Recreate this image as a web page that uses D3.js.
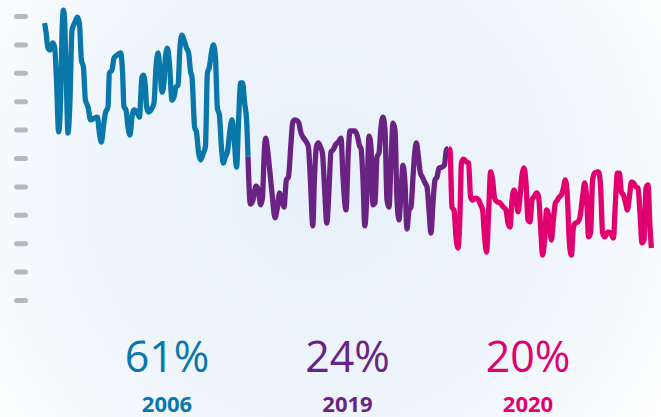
<!DOCTYPE html>
<html><head><meta charset="utf-8">
<script src="https://cdn.jsdelivr.net/npm/d3@7"></script>
<style>html,body{margin:0;padding:0;background:#fff;}svg{display:block;}</style>
</head><body>
<script>
// Period index (weeks) and values per series
const years = ["2006", "2019", "2020"];
const shares = ["61%", "24%", "20%"];
const colors = ["#0a77ab", "#6a2383", "#e0006f"];
const yTicks = [0,10,20,30,40,50,60,70,80,90,100];

const blueT = [0.3,1,2,3,4.3,5.3,6.3,7.3,8.3,9,9.7,10.3,11,12,13,14,15.3,16.7,17.7,18.7,19.7,20.7,22,23.3,25.3,26.7,27.7,28.7,29.7,30.7,32,32.7,34,35,36.7,38.3,39.3,40,41,42,43,44,45,46.7,47.7,49,49.7,50.7,51.3,52.3,54,55,56,57,58,59,60,60.7,61.7,62.7,64,65,66,67,68,69,70,71.3,72.3,73.3,74,75.3,76.3,77.3,78.3,79.7,80.7,81.7,82.7,83.7,84.7,85.7,86.7,87.7,88.7,89.7,90.7,91.7,93,94,95,96.3,97.3,98.3,99.3,100.3,101.3,102];
const blueV = [97.5,94.4,88.7,88.0,90.5,89.1,76.4,59.2,70.4,94.0,102.1,98.6,82.0,58.8,70.4,95.1,97.5,99.6,97.5,84.5,82.0,70.4,68.0,63.4,64.1,64.4,58.8,55.6,60.9,65.8,68.0,79.9,81.0,85.2,86.3,87.0,79.9,68.0,66.9,60.9,58.1,64.4,66.9,65.8,64.4,78.5,79.2,75.0,68.0,66.2,67.6,69.4,82.0,87.0,81.0,73.2,76.4,85.6,88.7,83.5,70.4,71.5,75.0,75.7,89.1,93.3,91.5,88.7,87.0,80.3,78.5,60.9,58.8,51.8,49.3,51.8,53.9,79.9,82.0,87.0,89.8,85.6,67.6,65.1,53.9,48.2,50.4,52.1,59.9,63.4,57.4,46.8,63.4,76.4,76.4,69.4,63.4,50.4];

const purpleT = [102,103.2,104.5,106,107.2,108.3,109.2,110.2,110.8,111.8,113.2,114.2,115.5,116.5,117.8,118.8,120,121.2,122.2,123.5,124.4,125.5,127.2,128.5,129.8,131.2,132.2,133.2,134.4,135.2,136.2,137.2,138.2,139.2,140.2,141.4,142.5,143.5,144.5,146,147.2,148.5,149.5,151,152.2,153,155.5,156.8,157.8,158.5,159.5,160.4,161.5,162.5,163.5,164.5,165.5,166.5,167.5,168.5,169.5,170.5,171.5,172.5,173.5,174.5,175.5,176.5,177.5,178.5,179.5,180.5,181.5,182.5,183.5,184.5,185.5,186.2,187.2,188.2,189.2,190.5,191.5,192.5,193.5,194.5,195.5,196.5,197.5,199,200.2,201.2,202.2];
const purpleV = [50.4,33.8,35.2,40.1,38.7,33.5,35.9,52.8,57.0,52.8,43.3,36.3,28.9,31.7,37.7,35.2,32.7,42.3,43.3,55.3,62.7,63.4,62.7,58.8,57.0,55.6,53.9,42.3,26.1,42.3,53.9,55.3,53.9,51.8,40.5,27.1,38.7,52.1,52.8,54.9,55.6,57.0,43.3,31.7,52.8,59.5,59.5,57.4,54.2,53.5,42.3,26.1,37.7,57.7,53.9,33.5,34.2,50.4,51.8,60.9,64.4,59.9,35.2,32.7,48.2,62.3,59.9,35.2,28.2,37.7,47.5,41.2,25.0,31.7,32.7,43.3,52.8,55.3,50.4,44.7,43.3,41.2,39.8,31.7,23.6,34.2,42.3,43.3,46.5,46.8,47.5,52.8,53.5];

const pinkT = [202.2,203,204,205,206,207,208,208.7,209.7,211.3,212.3,213.3,214.3,216,217.3,218.3,219.3,220.3,221.3,222.3,223.3,224.3,225.3,226.7,228,229.7,231,232,233,234,235,236,237,238,239,240,241,242,243,244,245,246.3,247.3,248.3,249.3,250.3,251.3,252.3,253.7,254.7,255.7,256.7,257.7,258.7,259.7,260.7,261.7,262.7,263.7,264.7,265.7,267,268,269.3,270.3,271.3,272.3,273.3,274.3,275.3,277.3,278.3,279.3,280.3,282,283.3,284.7,285.7,286.7,287.7,288.7,289.7,290.7,291.7,292.7,293.7,294.7,296,297,298,299,300,301,302,303,303.7];
const pinkV = [53.5,52.8,32.7,31.7,22.2,18.3,30.6,48.2,49.6,48.6,48.2,36.3,35.2,35.9,35.2,33.5,31.7,22.2,16.9,30.6,45.1,42.3,35.9,34.5,34.2,32.7,31.7,27.1,25.7,35.2,38.7,36.3,31.0,36.3,44.0,46.5,41.2,28.2,27.5,35.2,36.3,37.7,36.3,25.7,15.8,21.1,31.7,29.9,21.1,28.2,34.2,35.2,36.3,37.0,39.4,42.3,36.3,20.1,15.8,25.7,27.1,27.5,29.2,36.3,41.2,36.3,22.2,23.6,42.3,44.7,45.1,39.8,23.6,22.2,23.9,23.6,21.8,34.2,44.7,44.7,38.0,37.0,34.5,31.7,36.3,41.5,41.2,39.8,39.4,30.6,20.1,21.1,39.4,40.5,25.7,18.3];

const W = 661, H = 417;
const svg = d3.select("body").append("svg").attr("width", W).attr("height", H);

const defs = svg.append("defs");
const grad = defs.append("radialGradient").attr("id","bg")
  .attr("gradientUnits","userSpaceOnUse").attr("cx",320).attr("cy",190).attr("r",420);
grad.append("stop").attr("offset","0%").attr("stop-color","#e7f0fa");
grad.append("stop").attr("offset","55%").attr("stop-color","#eff5fb");
grad.append("stop").attr("offset","100%").attr("stop-color","#ffffff");
svg.append("rect").attr("width",W).attr("height",H).attr("fill","url(#bg)");

const x = d3.scaleLinear().domain([0, 304]).range([44, 652]);
const y = d3.scaleLinear().domain([0, 100]).range([300, 16]);

// y axis tick marks (no labels)
const yAxis = d3.axisLeft(y).tickValues(yTicks).tickSize(12).tickFormat("");
const ga = svg.append("g").attr("transform","translate(27,0)").call(yAxis);
ga.select(".domain").remove();
ga.selectAll(".tick line").attr("stroke","#b4b9be").attr("stroke-width",5).attr("stroke-linecap","round")
  .attr("x1",-1.5).attr("x2",-10.5);

const series = [
  {t: blueT, v: blueV, c: colors[0]},
  {t: purpleT, v: purpleV, c: colors[1]},
  {t: pinkT, v: pinkV, c: colors[2]}
];
const line = d3.line().x(d => x(d[0])).y(d => y(d[1])).curve(d3.curveMonotoneX);
series.forEach(s => {
  const pts = s.t.map((t,i) => [t, s.v[i]]);
  svg.append("path").datum(pts).attr("d", line)
    .attr("fill","none").attr("stroke", s.c).attr("stroke-width",5.3)
    .attr("stroke-linejoin","round").attr("stroke-linecap","butt");
});

const lx = d3.scalePoint().domain(years).range([167, 528]);
const lab = svg.append("g");
years.forEach((yr,i) => {
  lab.append("text").attr("x", lx(yr)).attr("y", 372).attr("text-anchor","middle")
    .attr("font-family","'Open Sans', sans-serif").attr("font-weight",400).attr("font-size",43)
    .attr("fill", colors[i]).text(shares[i]);
  lab.append("text").attr("x", lx(yr)).attr("y", 412).attr("text-anchor","middle")
    .attr("font-family","'Open Sans', sans-serif").attr("font-weight",700).attr("font-size",22)
    .attr("fill", colors[i]).text(yr);
});
</script>
</body></html>
